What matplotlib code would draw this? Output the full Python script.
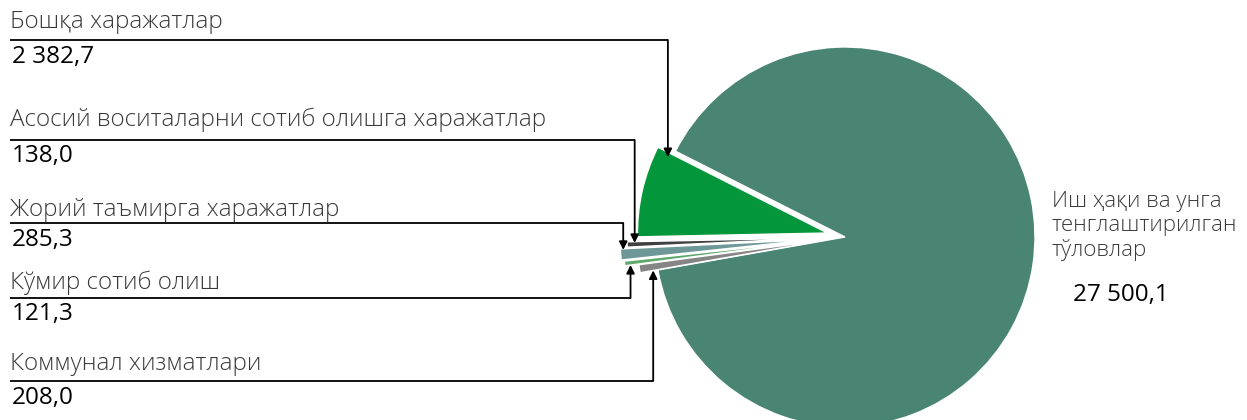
import math
import matplotlib.pyplot as plt

W, H = 1247, 420

# values (thousand sum), counterclockwise order starting from the big slice
names = ['Иш ҳақи ва унга\nтенглаштирилган\nтўловлар',
         'Бошқа харажатлар',
         'Асосий воситаларни сотиб олишга харажатлар',
         'Жорий таъмирга харажатлар',
         'Кўмир сотиб олиш',
         'Коммунал хизматлари']
values = [27500.1, 2382.7, 138.0, 285.3, 121.3, 208.0]
value_labels = ['27 500,1', '2 382,7', '138,0', '285,3', '121,3', '208,0']
colors = ['#4a8573', '#03963a', '#404040', '#6e9897', '#5fa86b', '#858585']

explode = [0, 18, 28, 35, 32, 18]  # pixels

plt.rcParams['font.family'] = ['Open Sans', 'DejaVu Sans']

fig = plt.figure(figsize=(W / 100, H / 100), dpi=100)
ax = fig.add_axes([0, 0, 1, 1])

center = (845, H - 237)
radius = 190
wedges, _ = ax.pie(values, colors=colors, startangle=190, counterclock=True,
                   explode=explode, center=center, radius=radius,
                   wedgeprops=dict(edgecolor='white', linewidth=1.0))
ax.set_xlim(0, W)
ax.set_ylim(0, H)
ax.set_aspect('equal')
ax.axis('off')


def edge_point(w, t, rf):
    a = math.radians(w.theta1 + t * (w.theta2 - w.theta1))
    cx, cy = w.center
    return cx + rf * w.r * math.cos(a), cy + rf * w.r * math.sin(a)


# left labels: (label y px, underline y px, number y px, arrow param t, rf)
layout = [
    (22, 40, 57, 0.05, 0.93),
    (120, 140, 156, 0.25, 0.96),
    (210, 223, 240, 0.10, 0.985),
    (283, 298, 314, 1.0, 0.97),
    (364, 381, 398, 1.0, 0.93),
]

fs = 17.5
label_color = '#3a3a3a'
for i, (ty, ly, ny, t, rf) in enumerate(layout, start=1):
    ax.text(10, H - ty, names[i], fontsize=fs, color=label_color,
            va='center', ha='left', fontweight='light')
    ax.text(12, H - ny, value_labels[i], fontsize=fs, color='black',
            va='center', ha='left')
    tx, tyy = edge_point(wedges[i], t, rf)
    ax.plot([10, tx], [H - ly, H - ly], color='black', lw=1.3,
            solid_capstyle='butt')
    ax.annotate('', xy=(tx, tyy), xytext=(tx, H - ly),
                arrowprops=dict(arrowstyle='-|>', color='black', lw=1.3,
                                mutation_scale=12, shrinkA=0, shrinkB=0))

ax.text(1052, H - 226, names[0], fontsize=16, color=label_color,
        va='center', ha='left', linespacing=1.2, fontweight='light')
ax.text(1073, H - 295, value_labels[0], fontsize=fs, color='black',
        va='center', ha='left')

fig.savefig('out.png', dpi=100)
